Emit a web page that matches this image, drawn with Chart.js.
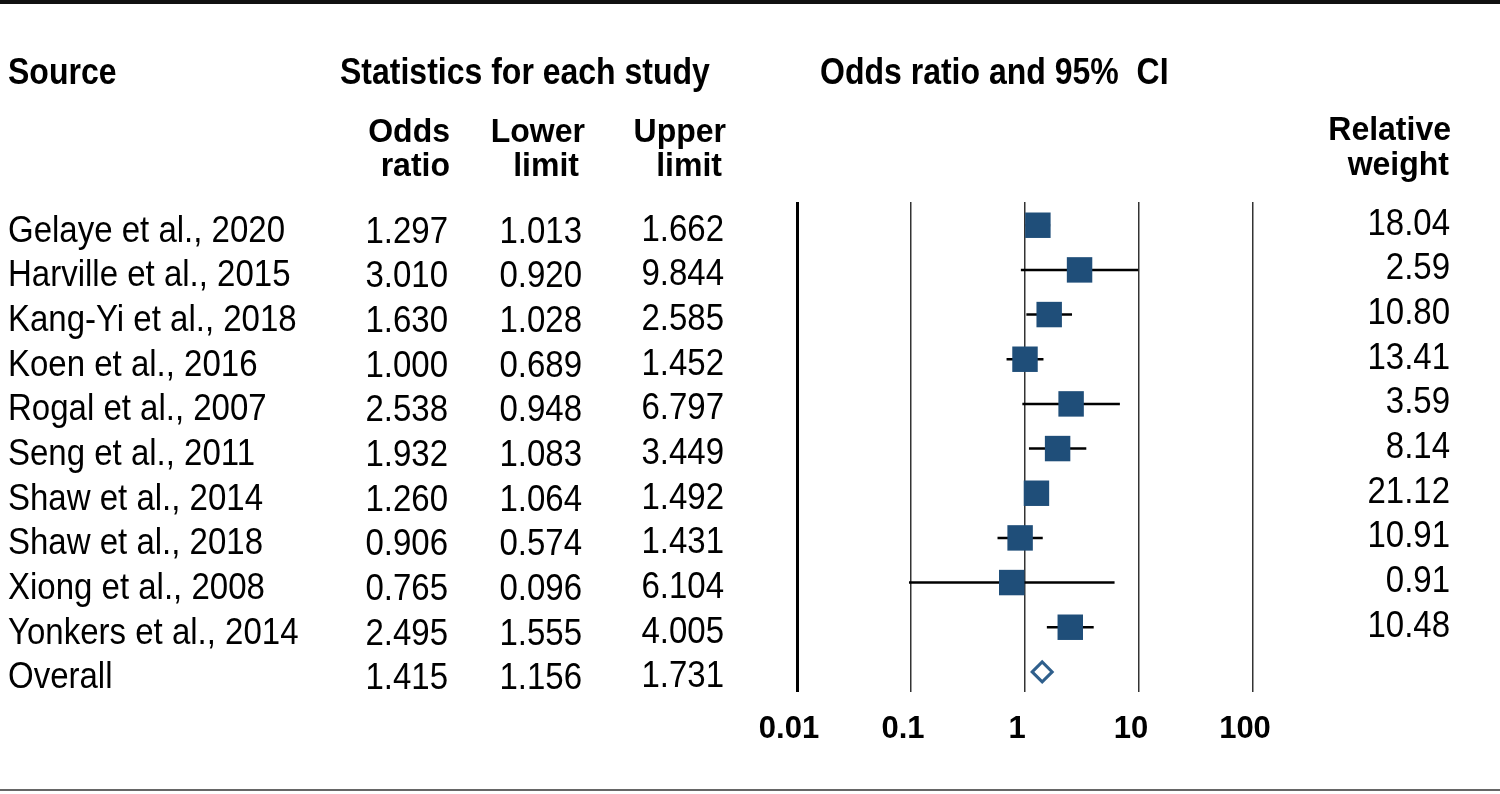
<!DOCTYPE html>
<html>
<head>
<meta charset="utf-8">
<script src="https://cdn.jsdelivr.net/npm/chart.js@4.4.1/dist/chart.umd.min.js"></script>
<style>
  body { margin: 0; background: #fff; }
  #wrap { width: 1500px; height: 794px; position: relative; }
</style>
</head>
<body>
<div id="wrap"><canvas id="forest"></canvas></div>
<script>
const studies = ["Gelaye et al., 2020", "Harville et al., 2015", "Kang-Yi et al., 2018", "Koen et al., 2016",
  "Rogal et al., 2007", "Seng et al., 2011", "Shaw et al., 2014", "Shaw et al., 2018",
  "Xiong et al., 2008", "Yonkers et al., 2014"];
const oddsRatio = [1.297, 3.010, 1.630, 1.000, 2.538, 1.932, 1.260, 0.906, 0.765, 2.495];
const lowerLimit = [1.013, 0.920, 1.028, 0.689, 0.948, 1.083, 1.064, 0.574, 0.096, 1.555];
const upperLimit = [1.662, 9.844, 2.585, 1.452, 6.797, 3.449, 1.492, 1.431, 6.104, 4.005];
const relWeight = [18.04, 2.59, 10.80, 13.41, 3.59, 8.14, 21.12, 10.91, 0.91, 10.48];
const overallLabel = "Overall";
const overallOR = 1.415, overallLower = 1.156, overallUpper = 1.731;
const xTicks = [0.01, 0.1, 1, 10, 100];

const FONT = '"Liberation Sans", Arial, sans-serif';
const squareColor = '#1f4e79';

// one line dataset per confidence interval
const ciSets = studies.map((s, i) => ({
  type: 'line',
  data: [{ x: lowerLimit[i], y: i }, { x: upperLimit[i], y: i }],
  borderColor: '#000',
  borderWidth: 2.5,
  pointRadius: 0,
  order: 2
}));

// glyphs in the original are a little taller than Arial
function tallText(c, txt, x, y, k) {
  c.save();
  c.translate(x, y);
  c.scale(1, k || 1.13);
  c.fillText(txt, 0, 0);
  c.restore();
}

const tablePlugin = {
  id: 'table',
  beforeDraw(chart) {
    const c = chart.ctx;
    c.save();
    c.fillStyle = '#fff';
    c.fillRect(0, 0, chart.width, chart.height);
    c.restore();
  },
  afterDraw(chart) {
    const c = chart.ctx;
    const y = chart.scales.y;
    c.save();
    // rules
    c.fillStyle = '#111';
    c.fillRect(0, 0, chart.width, 4);
    c.fillStyle = '#666';
    c.fillRect(0, 789, chart.width, 2);

    c.fillStyle = '#000';
    c.textBaseline = 'middle';
    c.font = 'bold 32px ' + FONT;
    c.textAlign = 'left';
    tallText(c, 'Source', 8, 74);
    tallText(c, 'Statistics for each study', 340, 74);
    tallText(c, 'Odds ratio and 95%  CI', 820, 74);
    c.textAlign = 'right';
    const hk = 1.06;
    tallText(c, 'Odds', 450, 133, hk); tallText(c, 'ratio', 450, 167, hk);
    tallText(c, 'Lower', 585, 133, hk); tallText(c, 'limit', 579, 167, hk);
    tallText(c, 'Upper', 726, 133, hk); tallText(c, 'limit', 722, 167, hk);
    tallText(c, 'Relative', 1451, 131, hk); tallText(c, 'weight', 1449, 166, hk);

    c.font = '33px ' + FONT;
    const rows = studies.map((s, i) => [s, oddsRatio[i], lowerLimit[i], upperLimit[i], relWeight[i]]);
    rows.push([overallLabel, overallOR, overallLower, overallUpper, null]);
    rows.forEach((r, i) => {
      const py = y.getPixelForValue(i);
      c.textAlign = 'left';
      tallText(c, r[0], 8, py + 6);
      c.textAlign = 'right';
      tallText(c, r[1].toFixed(3), 448, py + 7);
      tallText(c, r[2].toFixed(3), 582, py + 7);
      tallText(c, r[3].toFixed(3), 724, py + 5);
      if (r[4] !== null) tallText(c, r[4].toFixed(2), 1450, py - 1);
    });
    c.restore();
  }
};

new Chart(document.getElementById('forest'), {
  type: 'scatter',
  data: {
    datasets: [
      ...ciSets,
      {
        data: oddsRatio.map((v, i) => ({ x: v, y: i })),
        pointStyle: 'rect',
        pointRadius: 18,
        backgroundColor: squareColor,
        borderWidth: 0,
        order: 1
      },
      {
        data: [{ x: overallOR, y: studies.length }],
        pointStyle: 'rectRot',
        pointRadius: 10,
        backgroundColor: '#fff',
        borderColor: '#2f5f8c',
        borderWidth: 3,
        order: 0
      }
    ]
  },
  options: {
    responsive: true,
    maintainAspectRatio: false,
    animation: false,
    events: [],
    layout: { padding: { left: 797, right: 247, top: 202, bottom: 0 } },
    plugins: { legend: { display: false }, tooltip: { enabled: false } },
    scales: {
      x: {
        type: 'logarithmic',
        min: 0.01,
        max: 100,
        afterBuildTicks: axis => { axis.ticks = xTicks.map(v => ({ value: v })); },
        afterFit: axis => { axis.height = 102; },
        border: { display: false },
        grid: {
          drawTicks: false,
          color: ctx => ctx.tick && ctx.tick.value === 0.01 ? '#000' : '#333',
          lineWidth: ctx => ctx.tick && ctx.tick.value === 0.01 ? 3 : 1.5
        },
        ticks: {
          padding: 19,
          labelOffset: -8,
          color: '#000',
          font: { family: FONT, size: 31, weight: 'bold' },
          callback: v => String(v)
        }
      },
      y: {
        type: 'linear',
        min: -0.52,
        max: 10.45,
        reverse: true,
        display: false
      }
    }
  },
  plugins: [tablePlugin]
});
</script>
</body>
</html>
